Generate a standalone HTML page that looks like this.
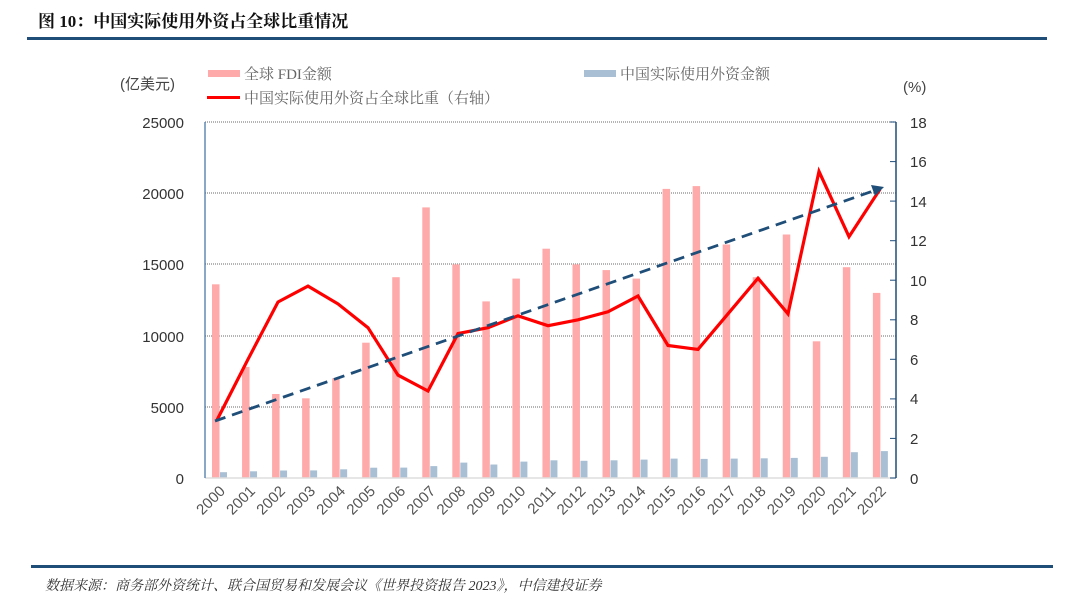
<!DOCTYPE html>
<html><head><meta charset="utf-8"><style>
body{margin:0;background:#fff;width:1080px;height:615px;overflow:hidden}
svg{display:block}
</style></head><body>
<svg width="1080" height="615" xmlns="http://www.w3.org/2000/svg" font-family="Liberation Sans, Noto Sans CJK SC, sans-serif">
<text x="38" y="27" font-size="17" font-weight="bold" fill="#111" font-family="Liberation Serif, Noto Serif CJK SC, serif">图 10：中国实际使用外资占全球比重情况</text>
<rect x="27" y="37" width="1020" height="3" fill="#1f4e79"/>
<rect x="31" y="565" width="1022" height="3" fill="#1f4e79"/>
<text x="45" y="590" font-size="14" font-style="italic" fill="#333" font-family="Liberation Serif, Noto Serif CJK SC, serif">数据来源：商务部外资统计、联合国贸易和发展会议《世界投资报告 2023》，中信建投证券</text>
<g font-family="Liberation Serif, Noto Serif CJK SC, serif" font-size="15" fill="#666">
<rect x="208" y="70" width="32" height="7" fill="#ffaaaa"/>
<text x="244" y="79">全球 FDI金额</text>
<rect x="584" y="70" width="32" height="7" fill="#a9c0d4"/>
<text x="620" y="79">中国实际使用外资金额</text>
<rect x="207" y="96" width="33" height="3" fill="#f00"/>
<text x="244" y="103">中国实际使用外资占全球比重（右轴）</text>
</g>
<text x="120" y="89" font-size="15" fill="#444">(亿美元)</text>
<text x="903" y="92" font-size="15" fill="#444">(%)</text>
<g stroke="#888" stroke-dasharray="1,1" stroke-width="1.2">
<line x1="205" y1="122" x2="896" y2="122"/>
<line x1="205" y1="193" x2="896" y2="193"/>
<line x1="205" y1="264" x2="896" y2="264"/>
<line x1="205" y1="336" x2="896" y2="336"/>
<line x1="205" y1="407" x2="896" y2="407"/>
</g>
<g fill="#ffaaaa">
<rect x="212" y="284.3" width="7.5" height="193.7"/>
<rect x="242.04" y="366.9" width="7.5" height="111.1"/>
<rect x="272.08" y="394" width="7.5" height="84"/>
<rect x="302.12" y="398.3" width="7.5" height="79.7"/>
<rect x="332.16" y="378.3" width="7.5" height="99.7"/>
<rect x="362.2" y="342.7" width="7.5" height="135.3"/>
<rect x="392.24" y="277.2" width="7.5" height="200.8"/>
<rect x="422.28" y="207.4" width="7.5" height="270.6"/>
<rect x="452.32" y="264.4" width="7.5" height="213.6"/>
<rect x="482.36" y="301.4" width="7.5" height="176.6"/>
<rect x="512.4" y="278.6" width="7.5" height="199.4"/>
<rect x="542.44" y="248.7" width="7.5" height="229.3"/>
<rect x="572.48" y="264.4" width="7.5" height="213.6"/>
<rect x="602.52" y="270.1" width="7.5" height="207.9"/>
<rect x="632.56" y="278.6" width="7.5" height="199.4"/>
<rect x="662.6" y="188.9" width="7.5" height="289.1"/>
<rect x="692.64" y="186.1" width="7.5" height="291.9"/>
<rect x="722.68" y="244.5" width="7.5" height="233.5"/>
<rect x="752.72" y="277.2" width="7.5" height="200.8"/>
<rect x="782.76" y="234.5" width="7.5" height="243.5"/>
<rect x="812.8" y="341.3" width="7.5" height="136.7"/>
<rect x="842.84" y="267.2" width="7.5" height="210.8"/>
<rect x="872.88" y="292.9" width="7.5" height="185.1"/>
</g>
<g fill="#a9c0d4">
<rect x="220" y="472.2" width="7" height="5.8"/>
<rect x="250.04" y="471.3" width="7" height="6.7"/>
<rect x="280.08" y="470.5" width="7" height="7.5"/>
<rect x="310.12" y="470.4" width="7" height="7.6"/>
<rect x="340.16" y="469.3" width="7" height="8.7"/>
<rect x="370.2" y="467.7" width="7" height="10.3"/>
<rect x="400.24" y="467.6" width="7" height="10.4"/>
<rect x="430.28" y="466.1" width="7" height="11.9"/>
<rect x="460.32" y="462.6" width="7" height="15.4"/>
<rect x="490.36" y="464.5" width="7" height="13.5"/>
<rect x="520.4" y="461.6" width="7" height="16.4"/>
<rect x="550.44" y="460.3" width="7" height="17.7"/>
<rect x="580.48" y="460.8" width="7" height="17.2"/>
<rect x="610.52" y="460.3" width="7" height="17.7"/>
<rect x="640.56" y="459.6" width="7" height="18.4"/>
<rect x="670.6" y="458.6" width="7" height="19.4"/>
<rect x="700.64" y="458.9" width="7" height="19.1"/>
<rect x="730.68" y="458.6" width="7" height="19.4"/>
<rect x="760.72" y="458.3" width="7" height="19.7"/>
<rect x="790.76" y="457.9" width="7" height="20.1"/>
<rect x="820.8" y="456.8" width="7" height="21.2"/>
<rect x="850.84" y="452.2" width="7" height="25.8"/>
<rect x="880.88" y="451.1" width="7" height="26.9"/>
</g>
<line x1="205" y1="478" x2="896" y2="478" stroke="#ddd" stroke-width="1.5"/>
<line x1="205" y1="122" x2="205" y2="478" stroke="#4a7aa8" stroke-width="1.3"/>
<line x1="896" y1="122" x2="896" y2="478" stroke="#1f4e79" stroke-width="1.5"/>
<g stroke="#1f4e79" stroke-width="1">
<line x1="890" y1="122" x2="896" y2="122"/><line x1="890" y1="161.6" x2="896" y2="161.6"/><line x1="890" y1="201.1" x2="896" y2="201.1"/><line x1="890" y1="240.7" x2="896" y2="240.7"/><line x1="890" y1="280.2" x2="896" y2="280.2"/><line x1="890" y1="319.8" x2="896" y2="319.8"/><line x1="890" y1="359.3" x2="896" y2="359.3"/><line x1="890" y1="398.9" x2="896" y2="398.9"/><line x1="890" y1="438.4" x2="896" y2="438.4"/><line x1="890" y1="478" x2="896" y2="478"/>
</g>
<g font-size="15" fill="#333" text-anchor="end">
<text x="184" y="128">25000</text><text x="184" y="199">20000</text><text x="184" y="270">15000</text><text x="184" y="342">10000</text><text x="184" y="413">5000</text><text x="184" y="484">0</text>
</g>
<g font-size="15" fill="#333">
<text x="910" y="128">18</text><text x="910" y="167">16</text><text x="910" y="207">14</text><text x="910" y="246">12</text><text x="910" y="286">10</text><text x="910" y="325">8</text><text x="910" y="365">6</text><text x="910" y="404">4</text><text x="910" y="444">2</text><text x="910" y="484">0</text>
</g>
<g font-size="15" fill="#555" text-anchor="end">
<text x="226" y="492" transform="rotate(-45 226 492)">2000</text>
<text x="256.04" y="492" transform="rotate(-45 256.04 492)">2001</text>
<text x="286.08" y="492" transform="rotate(-45 286.08 492)">2002</text>
<text x="316.12" y="492" transform="rotate(-45 316.12 492)">2003</text>
<text x="346.16" y="492" transform="rotate(-45 346.16 492)">2004</text>
<text x="376.2" y="492" transform="rotate(-45 376.2 492)">2005</text>
<text x="406.24" y="492" transform="rotate(-45 406.24 492)">2006</text>
<text x="436.28" y="492" transform="rotate(-45 436.28 492)">2007</text>
<text x="466.32" y="492" transform="rotate(-45 466.32 492)">2008</text>
<text x="496.36" y="492" transform="rotate(-45 496.36 492)">2009</text>
<text x="526.4" y="492" transform="rotate(-45 526.4 492)">2010</text>
<text x="556.44" y="492" transform="rotate(-45 556.44 492)">2011</text>
<text x="586.48" y="492" transform="rotate(-45 586.48 492)">2012</text>
<text x="616.52" y="492" transform="rotate(-45 616.52 492)">2013</text>
<text x="646.56" y="492" transform="rotate(-45 646.56 492)">2014</text>
<text x="676.6" y="492" transform="rotate(-45 676.6 492)">2015</text>
<text x="706.64" y="492" transform="rotate(-45 706.64 492)">2016</text>
<text x="736.68" y="492" transform="rotate(-45 736.68 492)">2017</text>
<text x="766.72" y="492" transform="rotate(-45 766.72 492)">2018</text>
<text x="796.76" y="492" transform="rotate(-45 796.76 492)">2019</text>
<text x="826.8" y="492" transform="rotate(-45 826.8 492)">2020</text>
<text x="856.84" y="492" transform="rotate(-45 856.84 492)">2021</text>
<text x="886.88" y="492" transform="rotate(-45 886.88 492)">2022</text>
</g>
<polyline fill="none" stroke="#f00" stroke-width="3.2" points="217,420 248,359.3 278,302 308,286.1 338,303.9 368,327.7 398,375.1 428,391 458,333.6 488,327.7 518,315.8 548,325.7 578,319.8 608,311.8 638,296 668,345.5 698,349.4 728,313.8 758,278.2 788,313.8 819,171.4 849,236.7 880,189.2"/>
<line x1="215" y1="421" x2="876" y2="190" stroke="#1f4e79" stroke-width="2.8" stroke-dasharray="11,7"/>
<polygon points="884,187 871,185 875,196" fill="#1f4e79"/>
</svg>
</body></html>
